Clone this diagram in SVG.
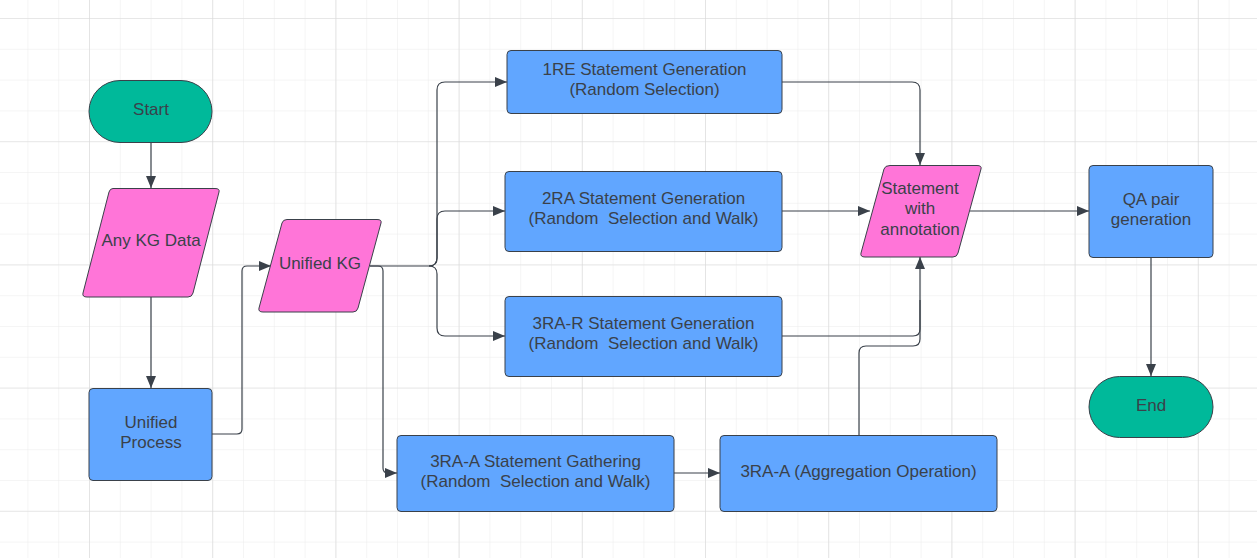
<svg xmlns="http://www.w3.org/2000/svg" width="1257" height="558" viewBox="0 0 1257 558">
<style>
text{font-family:"Liberation Sans",Arial,sans-serif;font-size:17px;fill:#3a414a;text-anchor:middle;white-space:pre}
.shape{stroke:#3a414a;stroke-width:1}
.blue{fill:#61a6ff}
.pink{fill:#ff75d8}
.teal{fill:#00b99a}
.conn path{fill:none;stroke:#3a414a;stroke-width:1.2}
</style>
<defs>
<pattern id="minor" x="-34.2" y="18" width="30.8" height="30.8" patternUnits="userSpaceOnUse">
<path d="M0 0H30.8M0 0V30.8" fill="none" stroke="#ebebeb" stroke-width="1"/>
</pattern>
<pattern id="major" x="-34.2" y="18" width="123.2" height="123.2" patternUnits="userSpaceOnUse">
<path d="M0 0H123.2M0 0V123.2" fill="none" stroke="#d9d9d9" stroke-width="1.2"/>
</pattern>
<marker id="arr" viewBox="0 0 12 10" refX="12" refY="5" markerWidth="12" markerHeight="10" markerUnits="userSpaceOnUse" orient="auto">
<path d="M0 0L12 5L0 10Z" fill="#3a414a"/>
</marker>
</defs>
<rect width="1257" height="558" fill="#ffffff"/>
<rect width="1257" height="558" fill="url(#minor)"/>
<rect width="1257" height="558" fill="url(#major)"/>

<g class="conn">
<path d="M151 142V188" marker-end="url(#arr)"/>
<path d="M151 297V388" marker-end="url(#arr)"/>
<path d="M212 434H237Q242 434 242 429V271Q242 266 247 266H271" marker-end="url(#arr)"/>
<path d="M370 266H429Q437 266 437 258V90Q437 82 445 82H507" marker-end="url(#arr)"/>
<path d="M429 266Q437 266 437 258V219Q437 211 445 211H505" marker-end="url(#arr)"/>
<path d="M429 266Q437 266 437 274V328Q437 336 445 336H505" marker-end="url(#arr)"/>
<path d="M370 266H378Q383 266 383 271V468Q383 473 388 473H397" marker-end="url(#arr)"/>
<path d="M782 82H912Q920 82 920 90V165" marker-end="url(#arr)"/>
<path d="M782 211H870" marker-end="url(#arr)"/>
<path d="M782 336H913Q920 336 920 329V257" marker-end="url(#arr)"/>
<path d="M859 435V353Q859 346 866 346H913Q920 346 920 339V300"/>
<path d="M674 473H720" marker-end="url(#arr)"/>
<path d="M970 211H1089" marker-end="url(#arr)"/>
<path d="M1151 257V376" marker-end="url(#arr)"/>
</g>

<g id="start">
<rect class="shape teal" x="89" y="80.5" width="123" height="62" rx="31"/>
<text x="151" y="115">Start</text>
</g>
<g id="anykg">
<path class="shape pink" d="M113 188.5H215Q220 188.5 219 192L193 293Q192 297 188 297H87Q82 297 83 293L109 192Q110 188.5 113 188.5Z"/>
<text x="151" y="246">Any KG Data</text>
</g>
<g id="unifiedprocess">
<rect class="shape blue" x="89" y="388.5" width="123" height="92" rx="4"/>
<text x="151" y="428">Unified</text>
<text x="151" y="448">Process</text>
</g>
<g id="unifiedkg">
<path class="shape pink" d="M287 219.5H377Q382 219.5 381 223L358 308Q357 312 353 312H263Q258 312 259 308L282 223Q283 219.5 287 219.5Z"/>
<text x="320" y="269">Unified KG</text>
</g>
<g id="re1">
<rect class="shape blue" x="507" y="50.5" width="275" height="63" rx="4"/>
<text x="644.5" y="75">1RE Statement Generation</text>
<text x="644.5" y="95">(Random Selection)</text>
</g>
<g id="ra2">
<rect class="shape blue" x="505" y="171.5" width="277" height="80" rx="4"/>
<text x="643.5" y="204">2RA Statement Generation</text>
<text x="643.5" y="224">(Random  Selection and Walk)</text>
</g>
<g id="ra3r">
<rect class="shape blue" x="505" y="296.5" width="277" height="80" rx="4"/>
<text x="643.5" y="329">3RA-R Statement Generation</text>
<text x="643.5" y="349">(Random  Selection and Walk)</text>
</g>
<g id="ra3a-gather">
<rect class="shape blue" x="397" y="435.5" width="277" height="76" rx="4"/>
<text x="535.5" y="467">3RA-A Statement Gathering</text>
<text x="535.5" y="487">(Random  Selection and Walk)</text>
</g>
<g id="ra3a-agg">
<rect class="shape blue" x="720" y="435.5" width="277" height="76" rx="4"/>
<text x="858.5" y="477">3RA-A (Aggregation Operation)</text>
</g>
<g id="statement">
<path class="shape pink" d="M890 165.5H977Q982 165.5 981 169L958 253Q957 257 953 257H865Q860 257 861 253L884 169Q885 165.5 890 165.5Z"/>
<text x="920" y="194">Statement</text>
<text x="920" y="214">with</text>
<text x="920" y="235">annotation</text>
</g>
<g id="qa">
<rect class="shape blue" x="1089" y="165.5" width="124" height="92" rx="4"/>
<text x="1151" y="205">QA pair</text>
<text x="1151" y="225">generation</text>
</g>
<g id="end">
<rect class="shape teal" x="1089" y="376.5" width="124" height="61" rx="30.5"/>
<text x="1151" y="411">End</text>
</g>
</svg>
